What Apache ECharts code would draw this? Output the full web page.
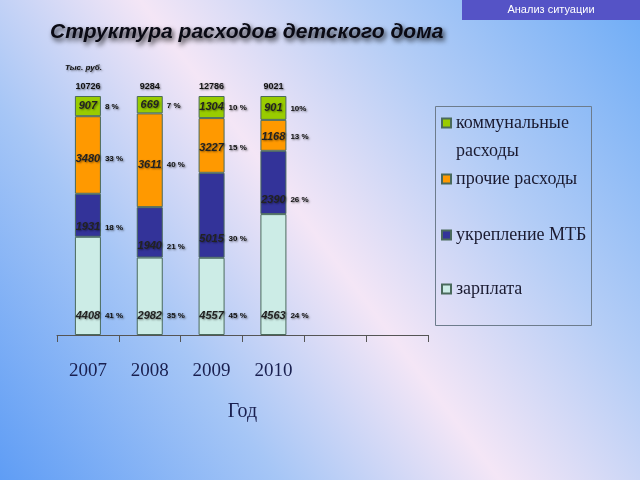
<!DOCTYPE html>
<html>
<head>
<meta charset="utf-8">
<script src="https://cdn.jsdelivr.net/npm/echarts@6/dist/echarts.min.js"></script>
<style>
html,body{margin:0;padding:0;}
body{width:640px;height:480px;background:linear-gradient(53.13deg,#5f9df5 0%,#a6c6f6 28%,#f4e6f6 50%,#b4cdf6 72%,#6eacf6 100%);}
#c{width:640px;height:480px;}
</style>
</head>
<body>
<div id="c"></div>
<script>
// ---- data ----
const categories = ['2007', '2008', '2009', '2010', '', ''];
const communal = [907, 669, 1304, 901];
const other = [3480, 3611, 3227, 1168];
const mtb = [1931, 1940, 5015, 2390];
const salary = [4408, 2982, 4557, 4563];
const totals = ['10726', '9284', '12786', '9021'];
const communalPct = ['8 %', '7 %', '10 %', '10%'];
const otherPct = ['33 %', '40 %', '15 %', '13 %'];
const mtbPct = ['18 %', '21 %', '30 %', '26 %'];
const salaryPct = ['41 %', '35 %', '45 %', '24 %'];
const names = ['зарплата', 'укрепление МТБ', 'прочие расходы', 'коммунальные расходы'];

// ---- derived shares (100% stacked) ----
const colSum = communal.map((_, i) => communal[i] + other[i] + mtb[i] + salary[i]);
const share = arr => arr.map((v, i) => v / colSum[i] * 100);

const colors = ['#ccece6', '#333399', '#ff9900', '#99cc00'];
const valueSets = [salary, mtb, other, communal];
const pctSets = [salaryPct, mtbPct, otherPct, communalPct];
const labelPos = [['50%', '100%'], ['50%', '78%'], ['50%', '55%'], ['50%', '50%']];
const labelOff = [[0, -19], [0, 0], [0, 0], [0, 0]];
const pctPos = [['100%', '100%'], ['100%', '78%'], ['100%', '55%'], ['100%', '55%']];

const valFont = {
  fontFamily: '"Liberation Sans Narrow","Liberation Sans",Arial',
  fontSize: 11, fontStyle: 'italic', fontWeight: 'bold', color: '#222',
  textShadowColor: 'rgba(0,0,0,0.45)', textShadowBlur: 2, textShadowOffsetX: 1, textShadowOffsetY: 1
};
const pctFont = {
  fontFamily: '"Liberation Sans Narrow","Liberation Sans",Arial',
  fontSize: 8, fontWeight: 'bold', color: '#111',
  textShadowColor: 'rgba(0,0,0,0.5)', textShadowBlur: 2, textShadowOffsetX: 1, textShadowOffsetY: 1
};

const series = [];
valueSets.forEach((vals, s) => {
  series.push({
    name: names[s], type: 'bar', stack: 'main', barWidth: 26, barGap: '-100%',
    data: share(vals),
    itemStyle: { color: colors[s], borderColor: '#4a6a5c', borderWidth: 1 },
    label: Object.assign({
      show: true, position: labelPos[s], offset: labelOff[s], align: 'center', verticalAlign: 'middle',
      formatter: p => String(vals[p.dataIndex])
    }, valFont),
    emphasis: { disabled: true }
  });
});
valueSets.forEach((vals, s) => {
  const pl = pctSets[s];
  series.push({
    name: 'pct' + s, type: 'bar', stack: 'pct', barWidth: 26, barGap: '-100%',
    data: share(vals),
    itemStyle: { color: 'rgba(0,0,0,0)' },
    label: Object.assign({
      show: true, position: pctPos[s], offset: s === 0 ? [4, -19] : [4, 0], align: 'left', verticalAlign: 'middle',
      formatter: p => pl[p.dataIndex]
    }, pctFont),
    emphasis: { disabled: true }, silent: true
  });
});
series.push({
  name: 'total', type: 'bar', stack: 'main', barWidth: 26, clip: false,
  data: totals.map(() => 0),
  itemStyle: { color: 'rgba(0,0,0,0)' },
  label: Object.assign({ show: true, position: 'top', distance: 5, formatter: p => totals[p.dataIndex] }, pctFont, { fontSize: 9 }),
  silent: true
});

const legendText = { fontFamily: '"Liberation Serif","Times New Roman",serif', fontSize: 18, color: '#1a1a30', lineHeight: 24 };
const legendTops = [81, 167, 223, 277];
const legendOrder = [3, 2, 1, 0];
const legends = legendOrder.map((s, k) => ({
  data: [names[s]], left: 441, top: legendTops[k], padding: 0, orient: 'vertical',
  itemWidth: 9, itemHeight: 9, itemGap: 0, icon: 'rect', selectedMode: false,
  formatter: s === 3 ? () => '\nкоммунальные\nрасходы' : n => n,
  textStyle: Object.assign({}, legendText, s === 3 ? { lineHeight: 28 } : {})
}));

const chart = echarts.init(document.getElementById('c'), null, { renderer: 'canvas' });
chart.setOption({
  backgroundColor: 'transparent',
  animation: false,
  title: [
    { text: 'Структура расходов детского дома', left: 50, top: 22, padding: 0,
      textStyle: { fontFamily: '"Liberation Sans",Arial', fontSize: 21, fontWeight: 'bold', fontStyle: 'italic', color: '#0a0a14',
        textShadowColor: 'rgba(0,0,0,0.8)', textShadowBlur: 5, textShadowOffsetX: 2, textShadowOffsetY: 3 } },
    { text: 'Тыс. руб.', left: 65, top: 64, padding: 0,
      textStyle: { fontFamily: '"Liberation Sans",Arial', fontSize: 8, fontWeight: 'bold', fontStyle: 'italic', color: '#111',
        textShadowColor: 'rgba(0,0,0,0.5)', textShadowBlur: 2, textShadowOffsetX: 1, textShadowOffsetY: 1 } }
  ],
  legend: legends,
  grid: { left: 57, right: 212, top: 96, bottom: 145, containLabel: false },
  xAxis: {
    type: 'category', data: categories,
    axisLine: { lineStyle: { color: '#555', width: 1 } },
    axisTick: { show: true, length: 7, interval: 0, lineStyle: { color: '#555' } },
    axisLabel: { interval: 0, margin: 27, fontFamily: '"Liberation Serif","Times New Roman",serif', fontSize: 19, color: '#1a2050' },
    name: 'Год', nameLocation: 'middle', nameGap: 67,
    nameTextStyle: { fontFamily: '"Liberation Serif","Times New Roman",serif', fontSize: 20, color: '#1a2050' }
  },
  yAxis: { type: 'value', min: 0, max: 100, show: false },
  graphic: [
    { type: 'rect', shape: { x: 435.5, y: 106.5, width: 156, height: 219 }, style: { fill: 'none', stroke: '#6d7c8c', lineWidth: 1 }, silent: true },
    { type: 'rect', shape: { x: 462, y: 0, width: 178, height: 20 }, style: { fill: '#5553c6' }, silent: true },
    { type: 'text', x: 551, y: 10, style: { text: 'Анализ ситуации', fill: '#ffffff', font: '11px "Liberation Sans",Arial', align: 'center', verticalAlign: 'middle' }, silent: true }
  ],
  series: series
});
</script>
</body>
</html>
